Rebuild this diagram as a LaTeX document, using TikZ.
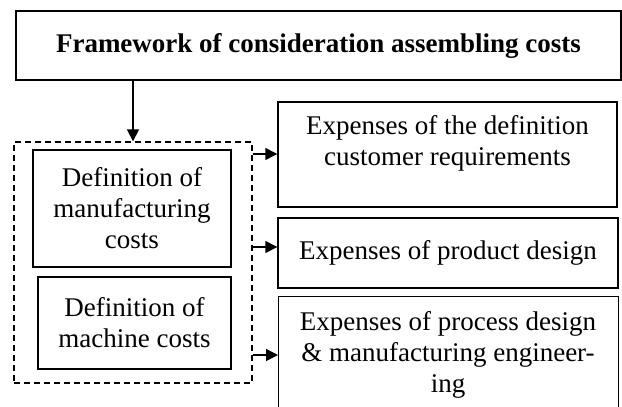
\documentclass[tikz,border=0pt]{standalone}
\usepackage{fontspec}
\setmainfont{Liberation Serif}
\usetikzlibrary{arrows.meta}
\begin{document}
\begin{tikzpicture}[x=1pt,y=-1pt,
  box/.style={draw,line width=1.4pt,inner sep=0pt,align=center},
  txt/.style={inner sep=0pt,align=center},
  dashbox/.style={draw,line width=1.3pt,dash pattern=on 6pt off 4pt,inner sep=0pt},
  arr/.style={line width=1.4pt,-{Triangle[length=12pt,width=12pt]}},
  every node/.style={font=\fontsize{27}{31}\selectfont}]
\useasboundingbox (0,0) rectangle (622,407);
\node[box,minimum width=605pt,minimum height=69pt,font=\fontsize{27}{31}\selectfont\bfseries] (top) at (318.5,45.5) {Framework of consideration assembling costs};
\node[dashbox,minimum width=238pt,minimum height=241pt] (grp) at (133,262.5) {};
\node[box,minimum width=198pt,minimum height=117pt] (mfg) at (132,208.5) {Definition of\\manufacturing\\costs};
\node[box,minimum width=193pt,minimum height=92pt] (mach) at (134.5,323) {Definition of\\machine costs};
\node[box,minimum width=339pt,minimum height=105pt] (e1) at (447.5,154.5) {};
\node[txt] (t1) at (447.5,143) {Expenses of the definition\\customer requirements};
\node[box,minimum width=340pt,minimum height=70pt] (e2) at (448,253) {Expenses of product design};
\node[box,minimum width=340pt,minimum height=124pt,anchor=north west] (e3) at (278,296) {};
\node[txt] (t3) at (448,355) {Expenses of process design\\\& manufacturing engineer-\\ing};
\draw[arr] (grp.north |- top.south) -- (grp.north);
\draw[arr] (grp.east |- 0,154) -- (e1.west |- 0,154);
\draw[arr] (grp.east |- 0,247) -- (e2.west |- 0,247);
\draw[arr] (grp.east |- 0,355) -- (e3.west |- 0,355);
\end{tikzpicture}
\end{document}
